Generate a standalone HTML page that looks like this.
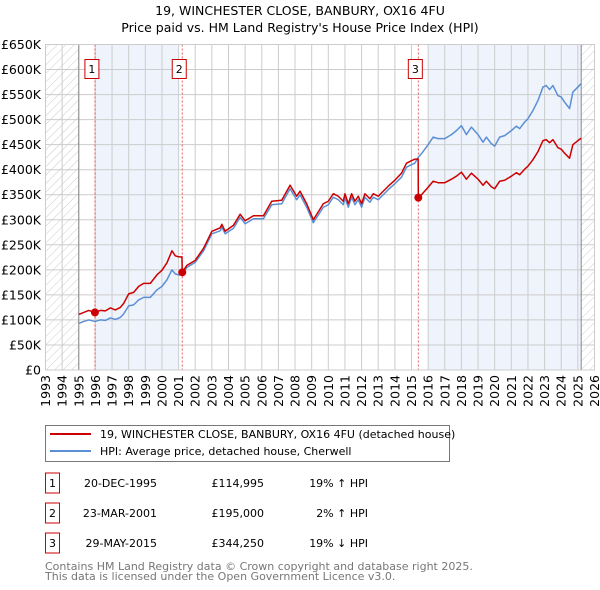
<!DOCTYPE html>
<html><head><meta charset="utf-8"><style>
body{margin:0;background:#fff;font-family:"DejaVu Sans","Liberation Sans",sans-serif;}
#wrap{position:relative;width:600px;height:590px;overflow:hidden;}
svg text{font-family:"DejaVu Sans","Liberation Sans",sans-serif;}
</style></head><body><div id="wrap">
<svg id="chart" width="600" height="590" xmlns="http://www.w3.org/2000/svg">
<defs><pattern id="hatch" width="6" height="6" patternUnits="userSpaceOnUse" patternTransform="rotate(45)"><line x1="0" y1="0" x2="0" y2="6" stroke="#ccc" stroke-width="1"/></pattern></defs>
<text x="300" y="15" text-anchor="middle" font-size="12.5">19, WINCHESTER CLOSE, BANBURY, OX16 4FU</text>
<text x="300" y="32" text-anchor="middle" font-size="12.5">Price paid vs. HM Land Registry's House Price Index (HPI)</text>
<g id="plot"></g>
<g>
<rect x="45.5" y="425.5" width="404" height="36" fill="#fff" stroke="#777"/>
<line x1="50" y1="434" x2="91" y2="434" stroke="#cc0000" stroke-width="2"/>
<text x="100" y="438" font-size="11">19, WINCHESTER CLOSE, BANBURY, OX16 4FU (detached house)</text>
<line x1="50" y1="451" x2="91" y2="451" stroke="#5b8fd4" stroke-width="2"/>
<text x="100" y="455" font-size="11">HPI: Average price, detached house, Cherwell</text>
</g>
<g id="table" font-size="11"></g>
<text x="45" y="570" font-size="11" fill="#777">Contains HM Land Registry data © Crown copyright and database right 2025.</text>
<text x="45" y="580" font-size="11" fill="#777">This data is licensed under the Open Government Licence v3.0.</text>
</svg></div>
<script>
const yTicks=[0,50,100,150,200,250,300,350,400,450,500,550,600,650];
const yTickLabels=["£0","£50K","£100K","£150K","£200K","£250K","£300K","£350K","£400K","£450K","£500K","£550K","£600K","£650K"];
const years=[1993,1994,1995,1996,1997,1998,1999,2000,2001,2002,2003,2004,2005,2006,2007,2008,2009,2010,2011,2012,2013,2014,2015,2016,2017,2018,2019,2020,2021,2022,2023,2024,2025,2026];
const hpiT=[1995.0,1995.3,1995.6,1995.97,1996.3,1996.6,1996.9,1997.2,1997.5,1997.7,1998.0,1998.3,1998.6,1998.9,1999.3,1999.7,2000.0,2000.3,2000.6,2000.8,2001.0,2001.22,2001.5,2002.0,2002.5,2003.0,2003.5,2003.6,2003.8,2004.3,2004.7,2005.0,2005.5,2006.1,2006.6,2007.2,2007.7,2008.1,2008.3,2008.7,2009.1,2009.7,2010.0,2010.3,2010.6,2010.9,2011.0,2011.2,2011.4,2011.6,2011.8,2012.0,2012.2,2012.5,2012.7,2013.0,2013.3,2013.6,2014.0,2014.4,2014.7,2015.0,2015.2,2015.41,2015.6,2016.0,2016.3,2016.6,2017.0,2017.4,2017.7,2018.0,2018.3,2018.6,2019.0,2019.3,2019.5,2019.8,2020.0,2020.3,2020.6,2021.0,2021.3,2021.5,2021.8,2022.0,2022.3,2022.6,2022.9,2023.1,2023.3,2023.5,2023.8,2024.0,2024.2,2024.5,2024.7,2025.0,2025.2];
const hpiV=[93,97,100,97,100,99,104,101,105,112,128,130,140,145,145,160,167,180,200,192,190,191,205,215,238,272,278,285,272,283,305,292,302,302,330,332,362,340,350,325,294,325,330,345,340,330,345,325,345,330,340,325,345,335,345,340,350,360,372,385,405,410,413,425,432,450,465,462,462,470,478,488,470,485,470,455,465,452,447,465,468,478,487,482,495,502,518,538,565,568,560,568,548,545,535,522,555,565,572];
const priceT=[1995.0,1995.3,1995.6,1995.97,1996.3,1996.6,1996.9,1997.2,1997.5,1997.7,1998.0,1998.3,1998.6,1998.9,1999.3,1999.7,2000.0,2000.3,2000.6,2000.8,2001.0,2001.2,2001.22,2001.5,2002.0,2002.5,2003.0,2003.5,2003.6,2003.8,2004.3,2004.7,2005.0,2005.5,2006.1,2006.6,2007.2,2007.7,2008.1,2008.3,2008.7,2009.1,2009.7,2010.0,2010.3,2010.6,2010.9,2011.0,2011.2,2011.4,2011.6,2011.8,2012.0,2012.2,2012.5,2012.7,2013.0,2013.3,2013.6,2014.0,2014.4,2014.7,2015.0,2015.2,2015.4,2015.41,2015.6,2016.0,2016.3,2016.6,2017.0,2017.4,2017.7,2018.0,2018.3,2018.6,2019.0,2019.3,2019.5,2019.8,2020.0,2020.3,2020.6,2021.0,2021.3,2021.5,2021.8,2022.0,2022.3,2022.6,2022.9,2023.1,2023.3,2023.5,2023.8,2024.0,2024.2,2024.5,2024.7,2025.0,2025.2];
const priceV=[111,115,119,115,119,118,124,120,125,133,152,155,167,173,173,190,199,214,238,228,226,226,195,209,219,243,277,284,291,277,289,311,298,308,308,337,339,369,347,357,332,300,332,337,352,347,337,352,332,352,337,347,332,352,342,352,347,357,367,379,393,413,418,421,421,344,350,365,377,374,374,381,387,395,381,393,381,369,377,366,362,377,379,387,394,390,401,407,420,436,458,460,454,460,444,441,433,423,450,458,463];
const saleT=[1995.97,2001.22,2015.41];
const saleV=[114.995,195,344.25];
const saleDates=["20-DEC-1995","23-MAR-2001","29-MAY-2015"];
const salePrices=["£114,995","£195,000","£344,250"];
const saleHpi=["19% \u2191 HPI","2% \u2191 HPI","19% \u2193 HPI"];

const X0=45.5,X1=594.5,Y0=370,Y1=44.5;
function xs(t){return X0+(t-1993)*(X1-X0)/33;}
function ys(v){return Y0-v*(Y0-Y1)/650;}
const NS="http://www.w3.org/2000/svg";
const plot=document.getElementById('plot');
function mk(tag,attrs,parent){const e=document.createElementNS(NS,tag);for(const k in attrs)e.setAttribute(k,attrs[k]);(parent||plot).appendChild(e);return e;}
let e;
e=mk('rect',{x:X0,y:Y1,width:X1-X0,height:Y0-Y1,fill:'#fff'});


e=mk('rect',{x:xs(1996),y:Y1,width:xs(2001)-xs(1996),height:Y0-Y1,fill:'#eef3fc'});


e=mk('rect',{x:xs(2016),y:Y1,width:xs(2025.2)-xs(2016),height:Y0-Y1,fill:'#eef3fc'});


e=mk('rect',{x:X0,y:Y1,width:xs(1995)-X0,height:Y0-Y1,fill:'url(#hatch)'});


e=mk('rect',{x:xs(2025.2),y:Y1,width:X1-xs(2025.2),height:Y0-Y1,fill:'url(#hatch)'});


years.forEach((yr,i)=>{
  const g=mk('line',{x1:xs(yr),x2:xs(yr),y1:Y1,y2:Y0,stroke:'#ccc','stroke-width':1});
  
  
  const t=mk('text',{x:0,y:0,'font-size':12.5,'text-anchor':'end',transform:`translate(${xs(yr)+4.5},${Y0+5}) rotate(-90)`});
  t.textContent=yr;
  
  
});
yTicks.forEach((v,i)=>{
  const g=mk('line',{x1:X0,x2:X1,y1:ys(v),y2:ys(v),stroke:'#ccc','stroke-width':1});
  
  
  const t=mk('text',{x:41,y:ys(v)+4.5,'font-size':12.5,'text-anchor':'end'});
  t.textContent=yTickLabels[i];
  
  
});
e=mk('line',{x1:xs(1995),x2:xs(1995),y1:Y1,y2:Y0,stroke:'#888','stroke-width':1});


e=mk('line',{x1:xs(2025.2),x2:xs(2025.2),y1:Y1,y2:Y0,stroke:'#888','stroke-width':1});


saleT.forEach((t,i)=>{
  const l=mk('line',{x1:xs(t),x2:xs(t),y1:Y1,y2:Y0,stroke:'#e06060','stroke-width':1,'stroke-dasharray':'2,2'});
  
  
  const b=mk('rect',{x:xs(t)-10,y:59.5,width:14,height:19,fill:'#fff',stroke:'#cc0000'});
  
  
  const tx=mk('text',{x:xs(t)-3,y:73,'font-size':11,'text-anchor':'middle'});
  tx.textContent=i+1;
  
  
});
e=mk('polyline',{points:hpiT.map((t,i)=>xs(t)+','+ys(hpiV[i])).join(' '),fill:'none',stroke:'#5b8fd4','stroke-width':1.5,'stroke-linejoin':'round'});


e=mk('polyline',{points:priceT.map((t,i)=>xs(t)+','+ys(priceV[i])).join(' '),fill:'none',stroke:'#cc0000','stroke-width':1.5,'stroke-linejoin':'round'});


saleT.forEach((t,i)=>{
  const c=mk('circle',{cx:xs(t),cy:ys(saleV[i]),r:4,fill:'#cc0000'});
  
  
});
e=mk('rect',{x:X0,y:Y1,width:X1-X0,height:Y0-Y1,fill:'none',stroke:'#ccc'});


const tbl=document.getElementById('table');
saleT.forEach((t,i)=>{
  const yc=483+i*30;
  const b=mk('rect',{x:45.5,y:yc-10,width:14,height:20,fill:'#fff',stroke:'#cc0000'},tbl);
  
  
  const n=mk('text',{x:52.5,y:yc+4,'text-anchor':'middle'},tbl);
  n.textContent=i+1;
  
  
  const d=mk('text',{x:157,y:yc+4,'text-anchor':'end'},tbl);
  d.textContent=saleDates[i];
  
  
  const p=mk('text',{x:264,y:yc+4,'text-anchor':'end'},tbl);
  p.textContent=salePrices[i];
  
  
  const h=mk('text',{x:368,y:yc+4,'text-anchor':'end'},tbl);
  h.textContent=saleHpi[i];
  
  
});
</script></body></html>
